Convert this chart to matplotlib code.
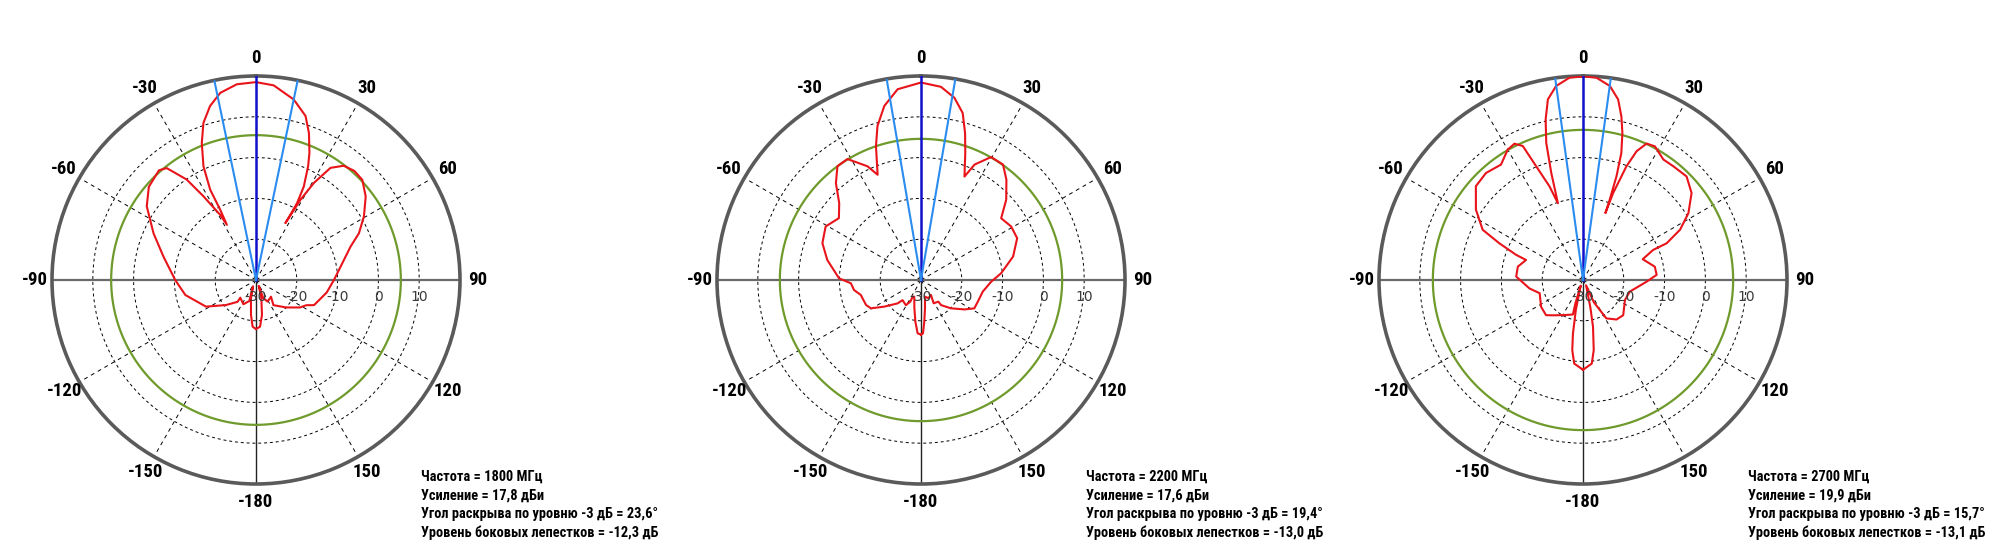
import numpy as np
import matplotlib
matplotlib.use("Agg")
import matplotlib.pyplot as plt
from matplotlib import font_manager
from matplotlib.font_manager import FontProperties

# ---- data (angle in degrees, level in dB) ----
freqs = [1800, 2200, 2700]
gains = [17.8, 17.6, 19.9]
beamwidths = [23.6, 19.4, 15.7]
sidelobes = [-12.3, -13.0, -13.1]

ang_1800 = [-180, -175.9, -171.9, -164.7, -155, -162.4, -152.5, -138.4, -139.8, -129.8,
            -118, -102, -90, -75.8, -65.5, -56, -49, -41.5, -38.6, -34.6, -32.1, -28.8,
            -27.8, -27, -26.9, -24.8, -21.6, -18.5, -14.8, -10.8, -5.6, 0,
            5.2, 11.8, 16.8, 19.8, 22.8, 24.6, 27.1, 28.1, 27.8, 27.3, 29, 30.8, 33.6,
            37.5, 42, 46.7, 52.7, 59.5, 65.6, 70.5, 81, 90, 100, 113.4, 116.6, 122,
            132.3, 145.3, 138, 151.7, 158, 154.8, 163.8, 170.3, 175.1, 180]
db_1800 = [-18.0, -18.5, -21.3, -25.3, -28.3, -24.6, -23.3, -24.2, -23.0, -20.4,
           -16.1, -12.3, -10.2, -6.6, -2.4, 2.3, 4.8, 5.9, 5.1, -0.1, -5.8, -11.8,
           -14.7, -10.7, -5.2, 0.7, 6.1, 10.6, 14.1, 16.7, 18.2, 18.5,
           17.9, 15.2, 12.0, 8.3, 3.8, 0.7, -4.3, -8.6, -12.0, -14.3, -7.5, -2.3, 3.0,
           5.3, 6.0, 5.8, 3.8, 0.7, -2.3, -5.4, -9.0, -10.9, -12.4, -14.5, -16.2, -17.3,
           -20.0, -22.5, -24.5, -24.0, -25.2, -28.4, -25.3, -21.3, -18.5, -18.0]

ang_2200 = [-180, -176.4, -172.3, -166.8, -158, -153.4, -153.8, -149, -137.5, -135,
            -126, -119.5, -114.4, -104, -98.5, -92.7, -88.8, -77.9, -69.5, -60.7, -53,
            -46.8, -41.3, -36.3, -31.3, -25.2, -22.4, -18.6, -15.8, -11.9, -7, 0,
            5.9, 10.4, 14, 16.7, 19.2, 22.8, 24.9, 29.7, 35.4, 40.4, 46.7, 52.4, 59.3,
            66.5, 75.7, 85.2, 91.4, 100.7, 111, 118, 124, 133.4, 141.3, 141.3, 151.5,
            146.3, 158, 166.5, 172, 175.4, 177.9, 180]
db_2200 = [-16.6, -16.9, -19.7, -22.9, -25.6, -25.4, -24.1, -22.8, -23.3, -21.9,
           -18.9, -15.9, -15.2, -14.8, -13.4, -12.8, -9.9, -6.5, -4.2, -3.2, -4.8,
           -2.5, 1.6, 4.6, 4.7, 0.8, -2.1, 4.6, 9.2, 13.6, 17.1, 18.4,
           17.6, 15.4, 12.2, 7.6, 3.0, -2.5, 1.2, 4.7, 4.7, 2.3, -1.3, -5.2, -4.3,
           -4.3, -6.7, -10.3, -12.8, -14.6, -15.1, -15.2, -17.1, -19.9, -22.1, -23.2, -23.5,
           -25.6, -25.2, -25.8, -23.0, -19.8, -16.9, -16.6]

ang_2700 = [-180, -174, -171.3, -169.4, -166.5, -158, -162, -163.7, -152.4, -140,
            -133.6, -122.6, -107, -98.9, -87, -78.4, -70.6, -69.4, -66.3, -63.4, -56.7,
            -48.8, -42.2, -35.4, -30, -26.7, -24.2, -22.4, -19.7, -18.1, -16.5, -15,
            -13.1, -11, -7.9, -3.8, 0,
            3.8, 7.9, 11, 13.2, 15, 16.8, 17.9, 18.4, 18.5, 19.1, 20.9, 22.6, 25, 28.3,
            33.7, 38.5, 45, 51.3, 57.6, 62.6, 66.3, 66.8, 70.8, 79.5, 86, 91.5, 104,
            115.6, 131.2, 139.7, 148.7, 154, 150, 165, 167.9, 171.3, 174, 180]
db_2700 = [-8.0, -9.4, -12.6, -16.6, -22.5, -28.5, -24.0, -21.2, -20.3, -18.7,
           -17.5, -17.8, -18.9, -16.7, -13.6, -13.7, -15.2, -12.5, -7.6, -2.5, 1.4,
           4.9, 5.4, 4.7, 6.9, 7.4, 6.0, 0.2, -5.6, -10.2, -2.6, 4.8,
           10.4, 15.1, 18.0, 19.7, 19.9,
           19.7, 18.0, 15.1, 11.2, 7.3, 2.5, -3.3, -9.3, -12.7, -7.5, -0.2, 4.2, 6.9, 7.2,
           5.5, 5.6, 5.9, 4.1, 0.6, -3.2, -7.6, -11.3, -14.5, -12.1, -11.9, -14.4, -18.2,
           -18.6, -16.9, -17.3, -19.0, -23.9, -28.5, -23.0, -18.3, -12.6, -9.4, -8.0]

angles_all = [ang_1800, ang_2200, ang_2700]
levels_all = [db_1800, db_2200, db_2700]

angle_ticks = [0, 30, 60, 90, 120, 150, 180, -150, -120, -90, -60, -30]
angle_labels = ["0", "30", "60", "90", "120", "150", "-180", "-150", "-120", "-90", "-60", "-30"]
ring_values = [-30, -20, -10, 0, 10]
r_min, r_max = -30, 20


def pick_font(names):
    for n in names:
        try:
            font_manager.findfont(FontProperties(family=n), fallback_to_default=False)
            return n
        except ValueError:
            pass
    return "DejaVu Sans"


narrow = pick_font(["Liberation Sans Narrow", "Roboto Condensed", "Open Sans Condensed"])
narrow_stretch = "normal" if narrow != "DejaVu Sans" else "condensed"

W, H = 2000, 560
R = 204
centers = [(256, 280), (921, 280), (1583, 280)]

fig = plt.figure(figsize=(W / 100, H / 100), dpi=100)

for i, (cx, cy) in enumerate(centers):
    ax = fig.add_axes([(cx - R) / W, (H - cy - R) / H, 2 * R / W, 2 * R / H], projection="polar")
    ax.set_theta_zero_location("N")
    ax.set_theta_direction(-1)
    ax.set_ylim(r_min, r_max)
    ax.grid(False)
    ax.set_xticks([])
    ax.set_yticks([])
    ax.spines["polar"].set_color("#5a5a5a")
    ax.spines["polar"].set_linewidth(2.6)

    # dashed rings and spokes
    t = np.linspace(0, 2 * np.pi, 361)
    for rv in ring_values[1:]:
        ax.plot(t, np.full_like(t, rv), color="black", lw=0.7, ls=(0, (3, 3)), zorder=1)
    for a in [30, 60, 120, 150, 210, 240, 300, 330]:
        ax.plot([np.deg2rad(a)] * 2, [r_min, r_max], color="black", lw=0.7,
                ls=(0, (4, 4)), zorder=1)
    # main axes
    for a in [90, 270]:
        ax.plot([np.deg2rad(a)] * 2, [r_min, r_max], color="#6a6a6a", lw=1.6, zorder=2)
    ax.plot([np.pi] * 2, [r_min, r_max], color="#222222", lw=1.0, zorder=2)

    # side lobe level ring
    sll = gains[i] + sidelobes[i]
    ax.plot(t, np.full_like(t, sll), color="#6f9a2c", lw=1.6, zorder=3)

    # pattern
    ax.plot(np.deg2rad(angles_all[i]), levels_all[i], color="#e8141a", lw=1.5, zorder=4)

    # beam axis and -3 dB lines
    ax.plot([0, 0], [r_min, r_max], color="#1010cc", lw=1.8, zorder=5)
    half = np.deg2rad(beamwidths[i] / 2)
    for s in (-1, 1):
        ax.plot([s * half] * 2, [r_min, r_max], color="#2b8cf0", lw=1.5, zorder=5)

    # angle labels
    for a, lab in zip(angle_ticks, angle_labels):
        ax.text(np.deg2rad(a), 24.3, lab, ha="center", va="center", fontsize=13.5,
                fontweight="bold", family=narrow, fontstretch=narrow_stretch, clip_on=False)
    # ring labels
    for rv in ring_values:
        ax.annotate(str(rv), xy=(np.pi / 2, rv), xytext=(0, -17), textcoords="offset pixels",
                    ha="center", va="center", fontsize=10, color="#3a3a3a", zorder=6)

    # info block
    lines = [
        f"Частота = {freqs[i]} МГц",
        f"Усиление = {gains[i]:.1f}".replace(".", ",") + " дБи",
        f"Угол раскрыва по уровню -3 дБ = {beamwidths[i]:.1f}".replace(".", ",") + "°",
        f"Уровень боковых лепестков = {sidelobes[i]:.1f}".replace(".", ",") + " дБ",
    ]
    tx = cx + 165
    for k, ln in enumerate(lines):
        fig.text(tx / W, 1 - (477 + 18.6 * k) / H, ln, ha="left", va="center", fontsize=10.4,
                 fontweight="bold", family=narrow, fontstretch=narrow_stretch)

fig.savefig("out.png", dpi=100, facecolor="white")
